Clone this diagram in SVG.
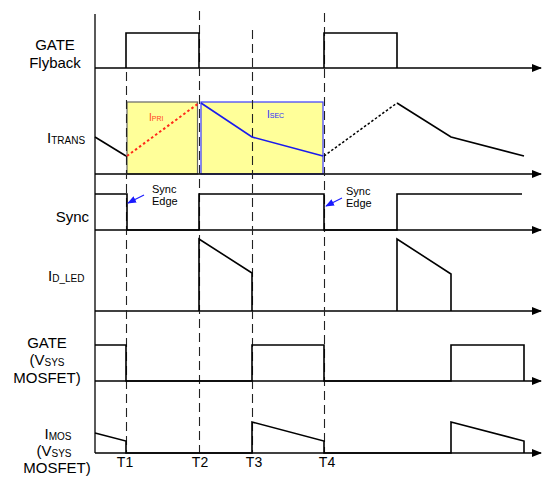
<svg xmlns="http://www.w3.org/2000/svg" width="543" height="477" viewBox="0 0 543 477">
<style>
text{font-family:"Liberation Sans",Arial,sans-serif;fill:#000}
.lbl{font-size:15px}
.sub{font-size:10px}
.small{font-size:11px}
.ax{stroke:#000;stroke-width:1.3;fill:none}
.wf{stroke:#000;stroke-width:1.6;fill:none;stroke-linejoin:miter}
.dash{stroke:#222;stroke-width:1.1;stroke-dasharray:9 5;fill:none}
</style>
<defs>
<marker id="ah" viewBox="0 0 10 8" refX="9" refY="4" markerWidth="10" markerHeight="8" markerUnits="userSpaceOnUse" orient="auto"><path d="M0,0 L10,4 L0,8 Z" fill="#000"/></marker>
<marker id="bh" viewBox="0 0 10 8" refX="9" refY="4" markerWidth="9" markerHeight="7" markerUnits="userSpaceOnUse" orient="auto"><path d="M0,0 L10,4 L0,8 Z" fill="#1a1aff"/></marker>
</defs>

<g id="highlight">
<rect x="127" y="102" width="70.5" height="72" fill="#ffff99" stroke="#666" stroke-width="1.2"/>
<rect x="201" y="102" width="122" height="72" fill="#ffff99" stroke="#3a3aff" stroke-width="1.2"/>
</g>

<g id="axes">
<line class="ax" x1="95" y1="14" x2="95" y2="453"/>
<line class="ax" x1="95" y1="68" x2="541" y2="68" marker-end="url(#ah)"/>
<line class="ax" x1="95" y1="174" x2="541" y2="174" marker-end="url(#ah)"/>
<line class="ax" x1="95" y1="230" x2="541" y2="230" marker-end="url(#ah)"/>
<line class="ax" x1="95" y1="311" x2="541" y2="311" marker-end="url(#ah)"/>
<line class="ax" x1="95" y1="381" x2="541" y2="381" marker-end="url(#ah)"/>
<line class="ax" x1="95" y1="453" x2="541" y2="453" marker-end="url(#ah)"/>
</g>

<g id="time-markers">
<line class="dash" x1="126.5" y1="72" x2="126.5" y2="453"/>
<line class="dash" x1="199.5" y1="11" x2="199.5" y2="453"/>
<line class="dash" x1="252.5" y1="30" x2="252.5" y2="453"/>
<line class="dash" x1="324.5" y1="13" x2="324.5" y2="453"/>
</g>

<g id="gate-flyback">
<polyline class="wf" points="126,68 126,33 199,33 199,68"/>
<polyline class="wf" points="324,68 324,33 397,33 397,68"/>
</g>

<g id="itrans">
<polyline class="wf" points="95,137 126,156"/>
<line x1="127" y1="156" x2="199" y2="103" stroke="#ff2a1a" stroke-width="2" stroke-dasharray="2.5 2.5"/>
<polyline points="201,103 252,137 323,156" fill="none" stroke="#1a1aee" stroke-width="1.6"/>
<line x1="324" y1="156" x2="397" y2="103" stroke="#000" stroke-width="1.5" stroke-dasharray="2.5 2"/>
<polyline class="wf" points="397,103 451,137 524,156"/>
<text x="149" y="121" font-size="10" style="fill:#ff4422">I<tspan font-size="7">PRI</tspan></text>
<text x="267" y="118" font-size="10" style="fill:#2a2aff">I<tspan font-size="7">SEC</tspan></text>
</g>

<g id="sync">
<polyline class="wf" points="95,194 127,194 127,230 199,230 199,194 324,194 324,230 397,230 397,194 522,194"/>
</g>

<g id="sync-edge-1">
<text class="small" x="152" y="193">Sync</text>
<text class="small" x="152" y="205">Edge</text>
<line x1="144" y1="195" x2="128" y2="203" stroke="#1a1aff" stroke-width="1.2" marker-end="url(#bh)"/>
</g>
<g id="sync-edge-2">
<text class="small" x="346" y="195">Sync</text>
<text class="small" x="346" y="207">Edge</text>
<line x1="342" y1="198" x2="326" y2="206" stroke="#1a1aff" stroke-width="1.2" marker-end="url(#bh)"/>
</g>

<g id="id-led">
<polyline class="wf" points="199,311 199,239 252,273 252,311"/>
<polyline class="wf" points="397,311 397,239 451,274 451,311"/>
</g>

<g id="gate-vsys">
<polyline class="wf" points="95,345 126,345 126,381 252,381 252,345 324,345 324,381 451,381 451,345 524,345 524,381"/>
</g>

<g id="imos">
<polyline class="wf" points="95,433 126,441 126,453 252,453 252,422 324,441 324,453 451,453 451,422 524,441 524,453"/>
</g>

<g id="labels">
<text class="lbl" x="55" y="50" text-anchor="middle">GATE</text>
<text class="lbl" x="55" y="68" text-anchor="middle">Flyback</text>
<text class="lbl" x="47" y="143">I<tspan class="sub" dy="1">TRANS</tspan></text>
<text class="lbl" x="89" y="222" text-anchor="end">Sync</text>
<text class="lbl" x="48" y="281">I<tspan class="sub" dy="1">D_LED</tspan></text>
<text class="lbl" x="47" y="348" text-anchor="middle">GATE</text>
<text class="lbl" x="47" y="365" text-anchor="middle">(V<tspan class="sub" dy="1">SYS</tspan></text>
<text class="lbl" x="47" y="383" text-anchor="middle">MOSFET)</text>
<text class="lbl" x="58" y="439" text-anchor="middle">I<tspan class="sub" dy="1">MOS</tspan></text>
<text class="lbl" x="54" y="456" text-anchor="middle">(V<tspan class="sub" dy="1">SYS</tspan></text>
<text class="lbl" x="57" y="473" text-anchor="middle">MOSFET)</text>
</g>

<g id="time-labels">
<text class="lbl" x="125" y="467" text-anchor="middle" font-size="14" style="font-size:14px">T1</text>
<text class="lbl" x="200" y="467" text-anchor="middle" style="font-size:14px">T2</text>
<text class="lbl" x="254" y="467" text-anchor="middle" style="font-size:14px">T3</text>
<text class="lbl" x="327" y="467" text-anchor="middle" style="font-size:14px">T4</text>
</g>
</svg>
